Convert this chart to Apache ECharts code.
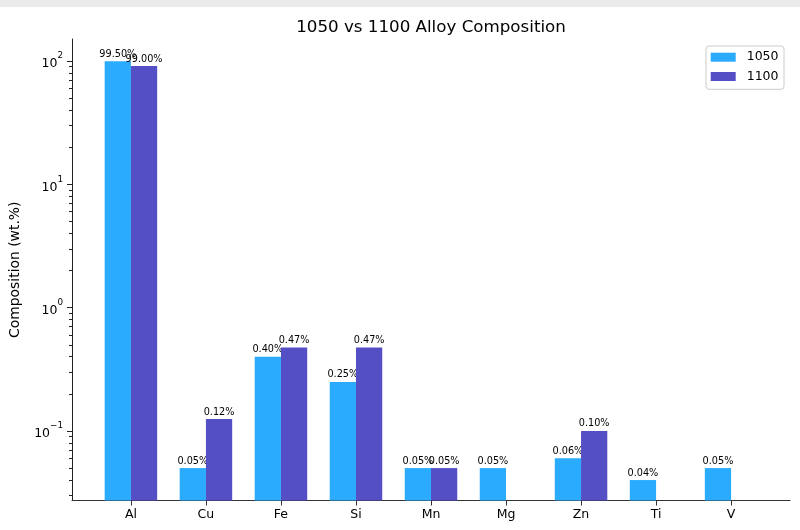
<!DOCTYPE html>
<html><head><meta charset="utf-8">
<script src="https://cdn.jsdelivr.net/npm/echarts@6/dist/echarts.min.js"></script>
<style>html,body{margin:0;padding:0;background:#fff}#c{width:800px;height:530px}</style>
</head><body><div id="c"></div>
<script>
const categories = ['Al', 'Cu', 'Fe', 'Si', 'Mn', 'Mg', 'Zn', 'Ti', 'V'];
const alloy1050 = [99.5, 0.05, 0.40, 0.25, 0.05, 0.05, 0.06, 0.04, 0.05];
const alloy1100 = [91, 0.125, 0.475, 0.475, 0.05, null, 0.10, null, null];
const labels1050 = ['99.50%', '0.05%', '0.40%', '0.25%', '0.05%', '0.05%', '0.06%', '0.04%', '0.05%'];
const labels1100 = ['99.00%', '0.12%', '0.47%', '0.47%', '0.05%', '', '0.10%', '', ''];
const yMajorTicks = [0.1, 1, 10, 100];
const yMinorTicks = [0.03, 0.04, 0.05, 0.06, 0.07, 0.08, 0.09,
                     0.2, 0.3, 0.4, 0.5, 0.6, 0.7, 0.8, 0.9,
                     2, 3, 4, 5, 6, 7, 8, 9,
                     20, 30, 40, 50, 60, 70, 80, 90];
const Y_MIN = 0.0273, Y_MAX = 150.7;

const FONT = 'DejaVu Sans';
const BAR_FRAC = 0.35;
const chart = echarts.init(document.getElementById('c'), null, {renderer: 'canvas'});
const frameGrid = {left: 72, right: 10, top: 39, bottom: 29.5};
const barGrid = {left: 93.4, right: 31.4, top: 39, bottom: 29.5};

function supFmt(v) {
  const e = Math.round(v);
  return '{b|10}{s|' + (e < 0 ? '\u2212' + (-e) : e) + '}';
}

function makeRenderer(side, labels) {
  return function (params, api) {
    const v = api.value(1);
    if (v == null || isNaN(v)) return null;
    const cat = api.value(0);
    const top = api.coord([cat, v]);
    const base = api.coord([cat, Y_MIN]);
    const band = api.size([1, 1])[0];
    const w = band * BAR_FRAC;
    const x = side < 0 ? top[0] - w : top[0];
    return {
      type: 'group',
      children: [
        {type: 'rect', shape: {x: x, y: top[1], width: w, height: base[1] - top[1]},
         style: {fill: api.visual('color')}},
        {type: 'text', style: {text: labels[params.dataIndex], x: x + w / 2, y: top[1] - 2,
          align: 'center', verticalAlign: 'bottom', font: '9.7px "DejaVu Sans"', fill: '#000'}}
      ]
    };
  };
}

chart.setOption({
  animation: false,
  backgroundColor: '#fff',
  textStyle: {fontFamily: FONT},
  title: {
    text: '1050 vs 1100 Alloy Composition',
    left: 426, top: 14, textAlign: 'center',
    textStyle: {fontFamily: FONT, fontSize: 16.7, fontWeight: 'normal', color: '#000'}
  },
  graphic: [{type: 'rect', shape: {x: 0, y: 0, width: 800, height: 7}, style: {fill: '#ebebeb'}, silent: true}],
  legend: {
    data: ['1050', '1100'],
    orient: 'vertical', left: 706, top: 46,
    itemWidth: 25, itemHeight: 9, itemGap: 6.3,
    padding: [4.7, 5.5, 6.3, 4.7],
    borderColor: '#cccccc', borderWidth: 1, borderRadius: 3,
    backgroundColor: 'rgba(255,255,255,0.8)',
    icon: 'rect',
    textStyle: {fontFamily: FONT, fontSize: 12.5, lineHeight: 13, color: '#000', padding: [0, 0, 0, 6]}
  },
  grid: [
    Object.assign({containLabel: false, outerBoundsMode: 'none'}, frameGrid),
    Object.assign({containLabel: false, outerBoundsMode: 'none'}, barGrid)
  ],
  xAxis: [
    {gridIndex: 0, type: 'value', min: 0, max: 1, position: 'bottom',
     axisLine: {show: true, onZero: false, lineStyle: {color: '#333', width: 1}},
     axisTick: {show: false}, axisLabel: {show: false}, splitLine: {show: false}},
    {gridIndex: 1, type: 'category', data: categories, boundaryGap: true, position: 'bottom',
     axisLine: {show: false, onZero: false},
     axisTick: {show: true, alignWithLabel: true, length: 5, lineStyle: {color: '#333', width: 1}},
     axisLabel: {fontFamily: FONT, fontSize: 12.5, color: '#000', margin: 8},
     splitLine: {show: false}}
  ],
  yAxis: [
    {gridIndex: 0, type: 'value', position: 'left', min: Math.log10(Y_MIN), max: Math.log10(Y_MAX),
     name: 'Composition (wt.%)', nameLocation: 'middle', nameGap: 50, nameRotate: 90,
     nameTextStyle: {fontFamily: FONT, fontSize: 13.9, color: '#000'},
     axisLine: {show: true, onZero: false, lineStyle: {color: '#222', width: 1}},
     axisTick: {show: true, length: 5, customValues: yMajorTicks.map(Math.log10), lineStyle: {color: '#222', width: 1}},
     axisLabel: {show: true, customValues: yMajorTicks.map(Math.log10), margin: 9,
       formatter: supFmt,
       rich: {
         b: {fontFamily: FONT, fontSize: 12.5, color: '#000', lineHeight: 19, verticalAlign: 'bottom'},
         s: {fontFamily: FONT, fontSize: 8.8, color: '#000', lineHeight: 19, verticalAlign: 'top'}
       }},
     splitLine: {show: false}},
    {gridIndex: 0, type: 'value', position: 'left', offset: 0, min: Math.log10(Y_MIN), max: Math.log10(Y_MAX),
     axisLine: {show: false, onZero: false},
     axisTick: {show: true, length: 3, customValues: yMinorTicks.map(Math.log10), lineStyle: {color: '#222', width: 1}},
     axisLabel: {show: false}, splitLine: {show: false}},
    {gridIndex: 1, type: 'log', logBase: 10, min: Y_MIN, max: Y_MAX, show: false,
     axisLine: {show: false}, axisTick: {show: false}, axisLabel: {show: false}, splitLine: {show: false}}
  ],
  series: [
    {name: '1050', type: 'custom', xAxisIndex: 1, yAxisIndex: 2,
     data: categories.map((c, i) => [i, alloy1050[i]]),
     encode: {x: 0, y: 1},
     itemStyle: {color: '#2babfe'},
     renderItem: makeRenderer(-1, labels1050)},
    {name: '1100', type: 'custom', xAxisIndex: 1, yAxisIndex: 2,
     data: categories.map((c, i) => [i, alloy1100[i]]),
     encode: {x: 0, y: 1},
     itemStyle: {color: '#554fc6'},
     renderItem: makeRenderer(1, labels1100)}
  ]
});
</script></body></html>
